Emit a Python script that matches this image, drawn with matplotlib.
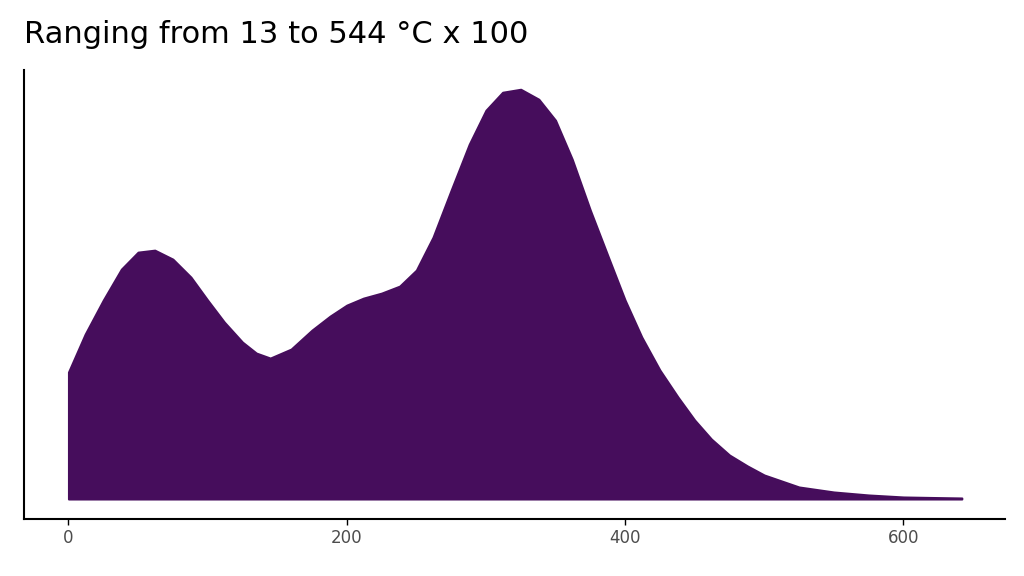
import matplotlib
matplotlib.use("Agg")
import matplotlib.pyplot as plt

# density curve (temperature /100, arbitrary density units)
temp = [0, 12, 25, 38, 50, 62, 75, 88, 100, 112, 125, 135, 145, 160, 175, 188, 200, 212, 225, 238,
        250, 262, 275, 288, 300, 312, 325, 338, 350, 362, 375, 388, 400, 412, 425, 438, 450, 462,
        475, 488, 500, 525, 550, 575, 600, 620, 642]
density = [127, 165, 199, 230, 247, 249, 240, 222, 199, 177, 157, 146, 141, 150, 169, 183, 194, 201, 206, 213,
           229, 262, 309, 355, 389, 407, 410, 400, 379, 340, 289, 242, 199, 162, 129, 102, 79, 60,
           44, 33, 24, 12, 7, 4, 2, 1.5, 1]

fig = plt.figure(figsize=(10.24, 5.76), dpi=100)
ax = fig.add_axes([0.0234, 0.099, 0.958, 0.779])
ax.fill_between(temp, 0, density, color='#460D5C', linewidth=1.5, edgecolor='#460D5C')
ax.set_xlim(-32, 673)
ax.set_ylim(-20, 429)
ax.set_xticks([0, 200, 400, 600])
ax.set_yticks([])
ax.tick_params(axis='x', labelsize=12, colors='#4d4d4d', length=4, width=1)
ax.tick_params(axis='x', color='black')
for s in ['top', 'right']:
    ax.spines[s].set_visible(False)
for s in ['left', 'bottom']:
    ax.spines[s].set_linewidth(1.5)
fig.text(0.023, 0.94, 'Ranging from 13 to 544 °C x 100', fontsize=22, va='center', ha='left')
fig.savefig('out.png', dpi=100)
